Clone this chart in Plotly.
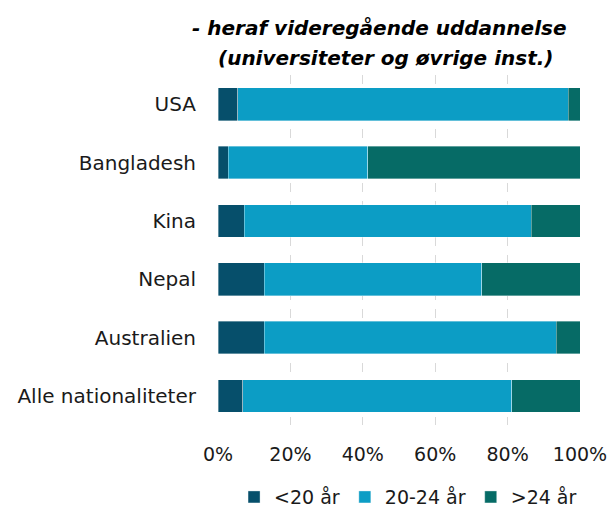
import plotly.graph_objects as go

categories = ["USA", "Bangladesh", "Kina", "Nepal", "Australien", "Alle nationaliteter"]
under20 = [5.4, 2.8, 7.3, 12.8, 12.8, 6.9]
age20_24 = [91.3, 38.5, 79.3, 60.0, 80.7, 74.3]
over24 = [3.3, 58.7, 13.4, 27.2, 6.5, 18.8]
series_names = ["<20 år", "20-24 år", ">24 år"]
colors = ["#064F6B", "#0C9DC5", "#066B66"]
x_ticks = [0, 20, 40, 60, 80, 100]
x_tick_labels = ["0%", "20%", "40%", "60%", "80%", "100%"]
title_lines = ["- heraf videregående uddannelse", "(universiteter og øvrige inst.)"]

FONT = "DejaVu Sans"

fig = go.Figure()
for name, vals, col in zip(series_names, [under20, age20_24, over24], colors):
    fig.add_trace(go.Bar(
        y=categories, x=vals, name=name, orientation="h",
        marker=dict(color=col, line=dict(color="rgba(255,255,255,0.6)", width=0.6)),
    ))

for line, xp, yp in zip(title_lines, [0.445, 0.464], [1.134, 1.049]):
    fig.add_annotation(
        text="<b><i>" + line + "</i></b>", xref="paper", yref="paper",
        x=xp, y=yp, xanchor="center", yanchor="middle",
        showarrow=False,
        font=dict(family=FONT, size=20, color="black"),
    )

fig.update_layout(
    barmode="stack",
    bargap=0.44,
    width=611, height=510,
    margin=dict(l=218, r=31, t=75, b=85, autoexpand=False),
    paper_bgcolor="white", plot_bgcolor="white",
    font=dict(family=FONT, size=20, color="#1a1a1a"),
    showlegend=True,
    legend=dict(
        orientation="h", x=0.525, xanchor="center", y=-0.206, yanchor="middle",
        font=dict(size=19), traceorder="normal",
        itemwidth=30,
    ),
    xaxis=dict(
        range=[0, 100], tickvals=x_ticks, ticktext=x_tick_labels,
        tickfont=dict(size=19),
        showgrid=True, gridcolor="#d9d9d9", griddash="dash", gridwidth=1,
        zeroline=False, showline=False, ticklabelstandoff=16,
        automargin=False,
    ),
    yaxis=dict(
        categoryorder="array", categoryarray=categories[::-1],
        showgrid=False, showline=False, zeroline=False,
        ticklabelstandoff=21, automargin=False,
    ),
)

# remove the default page margin so the 611x510 figure fills the window exactly
fig.write_html(
    "out.html",
    config={"displayModeBar": False},
    post_script="document.body.style.margin='0';document.body.style.overflow='hidden';",
)
